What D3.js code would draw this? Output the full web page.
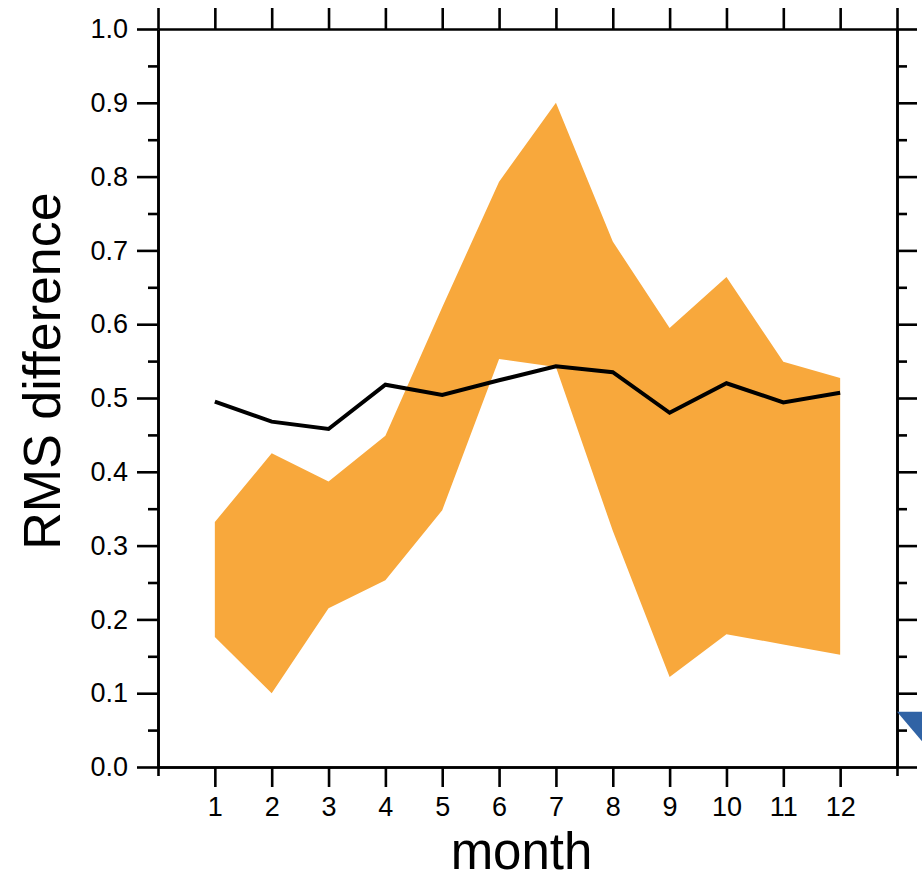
<!DOCTYPE html>
<html>
<head>
<meta charset="utf-8">
<script src="https://d3js.org/d3.v7.min.js"></script>
<style>
  body { margin: 0; background: white; }
  svg { display: block; font-family: "Liberation Sans", Arial, sans-serif; }
  .axis path, .axis line { stroke: black; stroke-width: 2.6; }
  .axis text { font-size: 27px; fill: black; }
</style>
</head>
<body>
<svg></svg>
<script>
// data
let months = [1, 2, 3, 4, 5, 6, 7, 8, 9, 10, 11, 12]
let rmsMean = [0.495, 0.468, 0.458, 0.518, 0.504, 0.524, 0.543, 0.535, 0.480, 0.520, 0.494, 0.507]
let bandUpper = [0.332, 0.425, 0.387, 0.449, 0.623, 0.793, 0.900, 0.712, 0.595, 0.664, 0.549, 0.527]
let bandLower = [0.176, 0.100, 0.215, 0.253, 0.348, 0.553, 0.542, 0.320, 0.122, 0.180, 0.166, 0.152]
let yTicks = [0, 0.1, 0.2, 0.3, 0.4, 0.5, 0.6, 0.7, 0.8, 0.9, 1.0]
let yMinor = [0.05, 0.15, 0.25, 0.35, 0.45, 0.55, 0.65, 0.75, 0.85, 0.95]

let width = 922, height = 881
let margin = {left: 158, right: 25, top: 29, bottom: 114}

let svg = d3.select("svg")
    .attr("width", width)
    .attr("height", height)

let x = d3.scaleLinear().domain([0, 13]).range([margin.left, width - margin.right])
let y = d3.scaleLinear().domain([0, 1]).range([height - margin.bottom, margin.top])

let rows = months.map((m, i) => ({m: m, lo: bandLower[i], hi: bandUpper[i], v: rmsMean[i]}))

//Shaded spread
let area = d3.area()
    .x(d => x(d.m))
    .y0(d => y(d.lo))
    .y1(d => y(d.hi))

svg.append("path")
    .datum(rows)
    .attr("d", area)
    .attr("fill", "#f8a83c")

//Mean line
let line = d3.line()
    .x(d => x(d.m))
    .y(d => y(d.v))

svg.append("path")
    .datum(rows)
    .attr("d", line)
    .attr("fill", "none")
    .attr("stroke", "black")
    .attr("stroke-width", 4)
    .attr("stroke-linejoin", "miter")

//Axes
svg.append("g")
    .attr("class", "axis")
    .attr("transform", "translate(" + margin.left + ",0)")
    .call(d3.axisLeft(y).tickValues(yTicks).tickFormat(d3.format(".1f")).tickSize(21).tickPadding(9).tickSizeOuter(0))

svg.append("g")
    .attr("class", "axis")
    .attr("transform", "translate(" + margin.left + ",0)")
    .call(d3.axisLeft(y).tickValues(yMinor).tickFormat("").tickSize(10).tickSizeOuter(0))

svg.append("g")
    .attr("class", "axis")
    .attr("transform", "translate(" + (width - margin.right) + ",0)")
    .call(d3.axisRight(y).tickValues(yTicks).tickFormat("").tickSize(20).tickSizeOuter(0))

svg.append("g")
    .attr("class", "axis")
    .attr("transform", "translate(" + (width - margin.right) + ",0)")
    .call(d3.axisRight(y).tickValues(yMinor).tickFormat("").tickSize(10).tickSizeOuter(0))

svg.append("g")
    .attr("class", "axis")
    .attr("transform", "translate(0," + margin.top + ")")
    .call(d3.axisTop(x).tickValues(d3.range(0, 14)).tickFormat("").tickSize(21).tickSizeOuter(0))

svg.append("g")
    .attr("class", "axis")
    .attr("transform", "translate(0," + (height - margin.bottom) + ")")
    .call(d3.axisBottom(x).tickValues(months).tickFormat(d3.format("d")).tickSize(20).tickPadding(10).tickSizeOuter(0))

svg.append("g")
    .attr("class", "axis")
    .attr("transform", "translate(0," + (height - margin.bottom) + ")")
    .call(d3.axisBottom(x).tickValues([0, 13]).tickFormat("").tickSize(9).tickSizeOuter(0))

//Axis titles
svg.append("text")
    .attr("x", x(6.5) - 6)
    .attr("y", 869)
    .attr("text-anchor", "middle")
    .style("font-size", "51px")
    .text("month")

svg.append("text")
    .attr("transform", "translate(60,371) rotate(-90)")
    .attr("text-anchor", "middle")
    .style("font-size", "52px")
    .text("RMS difference")

//blue corner of the neighbouring slide graphic
svg.append("path")
    .attr("d", "M" + x(13) + "," + y(0.075) + "L" + width + "," + y(0.075) + "L" + width + "," + y(0.035) + "Z")
    .attr("fill", "#3063a5")
</script>
</body>
</html>
